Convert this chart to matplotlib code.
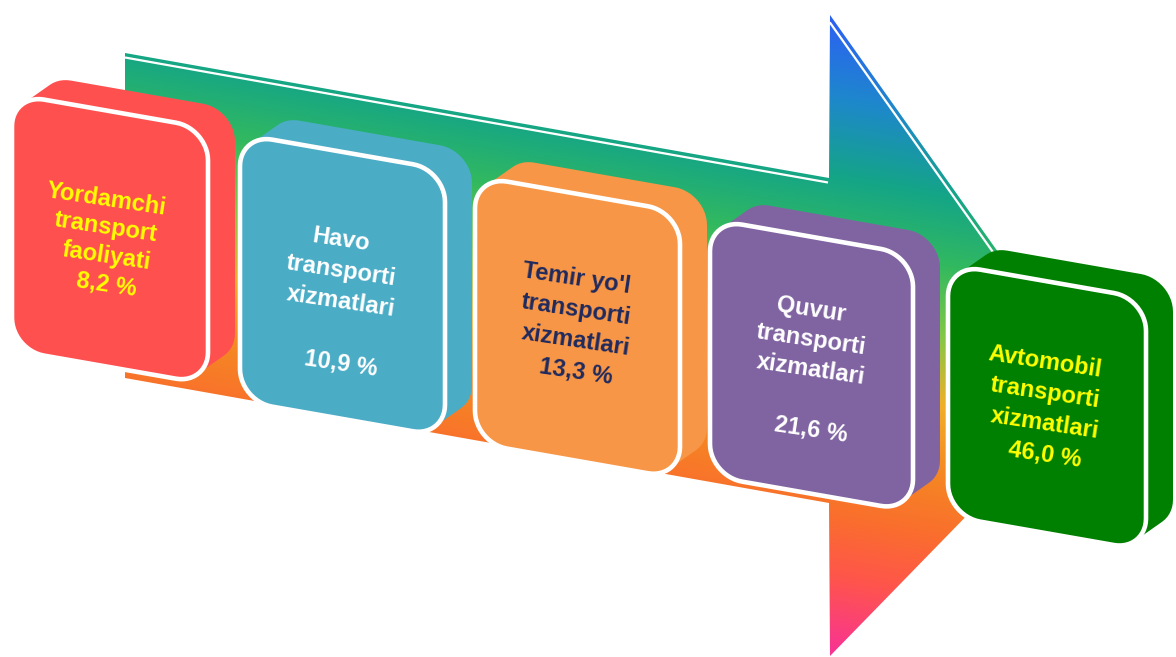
import numpy as np
import matplotlib
matplotlib.use("Agg")
import matplotlib.pyplot as plt
from matplotlib.patches import Polygon

# ---------------- data ----------------
categories = [
    "Yordamchi\ntransport\nfaoliyati",
    "Havo\ntransporti\nxizmatlari",
    "Temir yo'l\ntransporti\nxizmatlari",
    "Quvur\ntransporti\nxizmatlari",
    "Avtomobil\ntransporti\nxizmatlari",
]
shares = [8.2, 10.9, 13.3, 21.6, 46.0]
blank_line_before_value = [False, True, False, True, False]
box_colors = ["#FF5050", "#4BACC6", "#F79646", "#8064A2", "#008000"]
text_colors = ["#FFFF00", "#FFFFFF", "#1F2A5E", "#FFFFFF", "#FFFF00"]

# ---------------- layout (pixel space, y down) ----------------
W, H = 1176, 657
box_x = [12, 240, 475, 710, 948]
box_top = [94, 134, 176, 219, 264]
box_w = [196, 205, 205, 203, 198]
box_h = [256, 267, 267, 257, 252]
text_x = [106, 341, 576, 811, 1045]
text_first_y = [199, 240, 279, 310, 362]
text_step = [28.5, 31.0, 31.0, 30.0, 31.0]
SLOPE = 0.175
DEPTH = (27, -19)
RADIUS = 32

arrow_pts = [(125, 53), (829, 178), (830, 15), (1093, 386),
             (830, 656), (829, 503), (125, 378)]
grad_stops = [(-110, (45, 95, 245)), (-30, (30, 135, 205)), (50, (20, 165, 135)),
              (120, (50, 185, 95)), (190, (130, 200, 70)), (260, (240, 175, 40)),
              (330, (245, 135, 35)), (390, (250, 110, 45)), (450, (255, 85, 75)),
              (530, (248, 50, 150))]


def skew_rrect(x0, top, w, h, r, slope, n=14):
    corners = [((w - r, r), -90, 0), ((w - r, h - r), 0, 90),
               ((r, h - r), 90, 180), ((r, r), 180, 270)]
    pts = []
    for (cx, cy), a0, a1 in corners:
        t = np.radians(np.linspace(a0, a1, n))
        u = cx + r * np.cos(t)
        v = cy + r * np.sin(t)
        for uu, vv in zip(u, v):
            pts.append((x0 + uu, top + vv + slope * uu))
    return np.array(pts)


def convex_hull(points):
    pts = sorted(map(tuple, points))

    def cross(o, a, b):
        return (a[0] - o[0]) * (b[1] - o[1]) - (a[1] - o[1]) * (b[0] - o[0])
    lower, upper = [], []
    for p in pts:
        while len(lower) >= 2 and cross(lower[-2], lower[-1], p) <= 0:
            lower.pop()
        lower.append(p)
    for p in reversed(pts):
        while len(upper) >= 2 and cross(upper[-2], upper[-1], p) <= 0:
            upper.pop()
        upper.append(p)
    return np.array(lower[:-1] + upper[:-1])


fig = plt.figure(figsize=(W / 100, H / 100), dpi=100)
ax = fig.add_axes([0, 0, 1, 1])
ax.set_xlim(0, W)
ax.set_ylim(H, 0)
ax.axis("off")

# ---- gradient arrow ----
yy, xx = np.mgrid[0:H, 0:W] + 0.5
v = yy - 0.178 * (xx - 125)
sv = np.array([s[0] for s in grad_stops], dtype=float)
sc = np.array([s[1] for s in grad_stops], dtype=float) / 255.0
rgb = np.dstack([np.interp(v, sv, sc[:, k]) for k in range(3)])
arrow = Polygon(arrow_pts, closed=True, facecolor="none", edgecolor="none")
ax.add_patch(arrow)
im = ax.imshow(rgb, extent=(0, W, H, 0), origin="upper", interpolation="bilinear", zorder=1)
im.set_clip_path(arrow)

# white highlight lines inside the arrow's upper edges
ax.plot([125, 828], [57.5, 182.5], color="white", lw=1.6, zorder=2, solid_capstyle="butt")
hx0, hy0 = 830, 15
hx1, hy1 = 1093, 386
d = np.array([hx1 - hx0, hy1 - hy0], dtype=float)
d /= np.linalg.norm(d)
nrm = np.array([-d[1], d[0]]) * 4.0
ax.plot([hx0 + nrm[0] + 3, hx1 + nrm[0]], [hy0 + nrm[1] + 5, hy1 + nrm[1]],
        color="white", lw=1.6, zorder=2, solid_capstyle="butt")

# ---- boxes ----
for i in range(len(categories)):
    front = skew_rrect(box_x[i], box_top[i], box_w[i], box_h[i], RADIUS, SLOPE)
    back = front + np.array(DEPTH)
    hull = convex_hull(np.vstack([front, back]))
    z = 3 + 2 * i
    ax.add_patch(Polygon(hull, closed=True, facecolor=box_colors[i],
                         edgecolor="none", zorder=z))
    ax.add_patch(Polygon(front, closed=True, facecolor=box_colors[i],
                         edgecolor="white", lw=3.3, joinstyle="round", zorder=z + 1))
    val = f"{shares[i]:.1f}".replace(".", ",") + " %"
    lines = categories[i].split("\n")
    if blank_line_before_value[i]:
        lines.append("")
    lines.append(val)
    for k, line in enumerate(lines):
        if not line:
            continue
        ax.text(text_x[i], text_first_y[i] + k * text_step[i], line,
                rotation=-8.5, rotation_mode="anchor",
                ha="center", va="center",
                fontsize=17, fontweight="bold", color=text_colors[i],
                family=["Liberation Sans", "DejaVu Sans"], zorder=20)

fig.savefig("out.png", dpi=100)
